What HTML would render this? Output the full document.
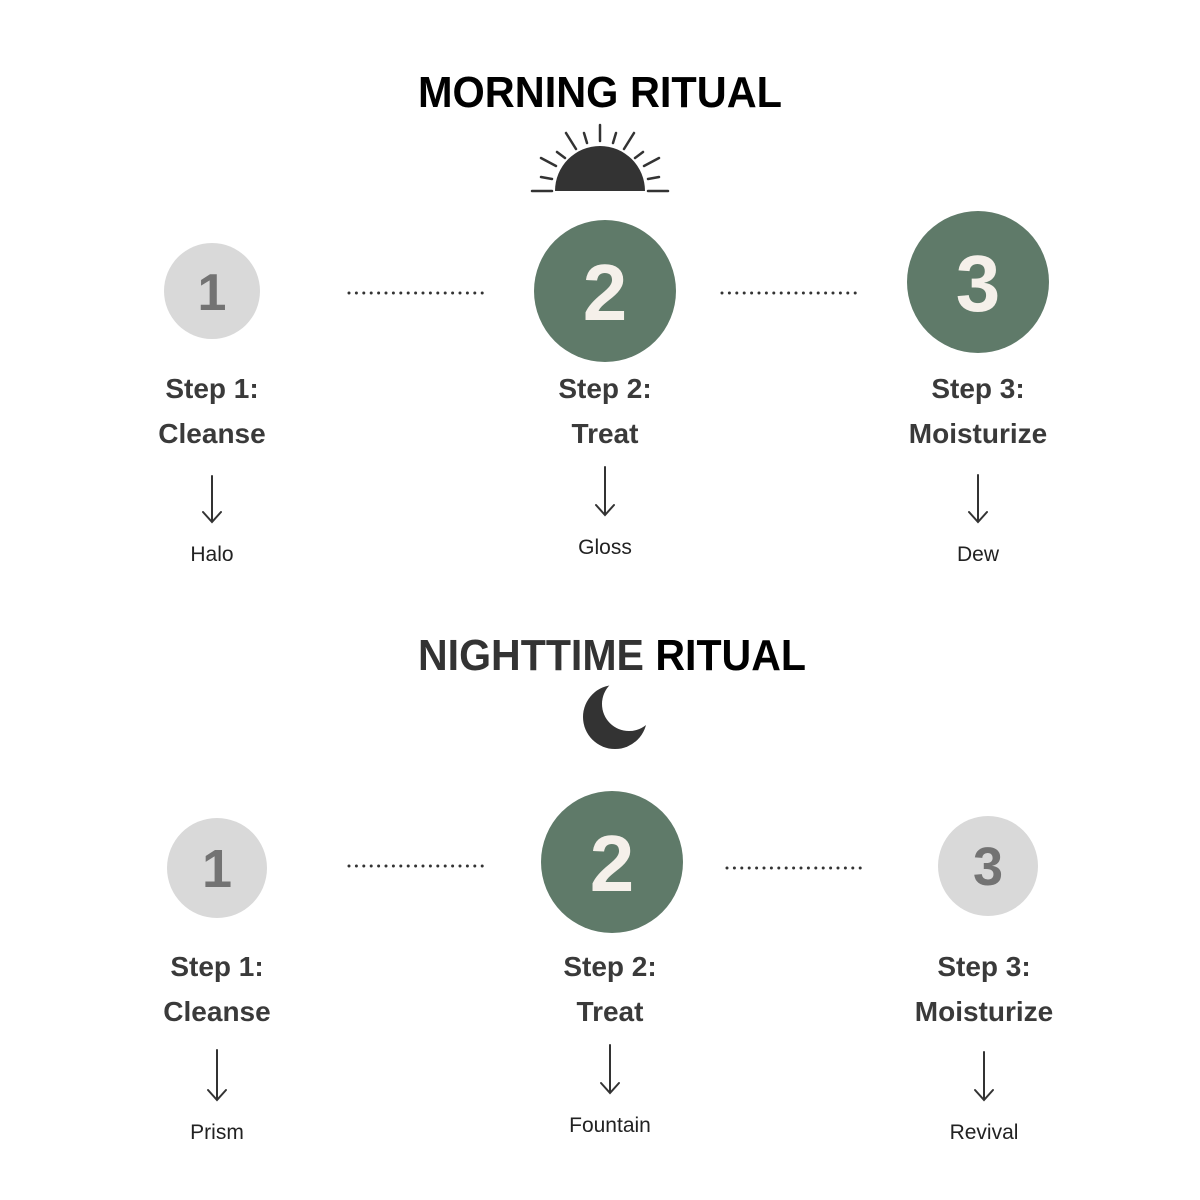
<!DOCTYPE html>
<html><head><meta charset="utf-8"><style>
html,body{margin:0;padding:0;background:#fff}
svg{display:block}
.h{font-family:"Liberation Sans",sans-serif;font-weight:bold;font-size:44px;text-anchor:middle}
.s{font-family:"Liberation Sans",sans-serif;font-weight:bold;font-size:28px;fill:#3a3a3a;text-anchor:middle}
.p{font-family:"Liberation Sans",sans-serif;font-size:21px;fill:#222;text-anchor:middle}
.n{font-family:"Liberation Sans",sans-serif;font-weight:bold;text-anchor:middle}
.d{stroke:#333;stroke-width:3;stroke-linecap:round;stroke-dasharray:0 7.4}
.a{stroke:#333;stroke-width:2;fill:none;stroke-linecap:round}
</style></head><body>
<svg width="1200" height="1200" viewBox="0 0 1200 1200">
<defs><mask id="m"><rect width="1200" height="1200" fill="#fff"/><circle cx="629" cy="704" r="27" fill="#000"/></mask></defs>
<text x="600" y="107" class="h" fill="#000" textLength="364" lengthAdjust="spacingAndGlyphs">MORNING RITUAL</text>
<path d="M555 191 A45 45 0 0 1 645 191 Z" fill="#333"/>
<g stroke="#333" stroke-width="2.5" stroke-linecap="round">
<line x1="532" y1="191" x2="552" y2="191"/><line x1="648" y1="191" x2="668" y2="191"/>
<line x1="600" y1="125" x2="600" y2="141"/>
<line x1="541" y1="177" x2="552" y2="179"/><line x1="659" y1="177" x2="648" y2="179"/>
<line x1="541" y1="158" x2="556" y2="166"/><line x1="659" y1="158" x2="644" y2="166"/>
<line x1="557" y1="152" x2="565" y2="158"/><line x1="643" y1="152" x2="635" y2="158"/>
<line x1="566" y1="133" x2="576" y2="149"/><line x1="634" y1="133" x2="624" y2="149"/>
<line x1="584" y1="133" x2="587" y2="143"/><line x1="616" y1="133" x2="613" y2="143"/>
</g>
<circle cx="212" cy="291" r="48" fill="#d9d9d9"/>
<text x="212" y="310" class="n" font-size="52" fill="#737373">1</text>
<circle cx="605" cy="291" r="71" fill="#5f7a69"/>
<text x="605" y="320" class="n" font-size="80" fill="#f5f0ea">2</text>
<circle cx="978" cy="282" r="71" fill="#5f7a69"/>
<text x="978" y="311" class="n" font-size="80" fill="#f5f0ea">3</text>
<line x1="349" y1="293" x2="489" y2="293" class="d"/>
<line x1="722" y1="293" x2="862" y2="293" class="d"/>
<text x="212" y="398" class="s">Step 1:</text><text x="212" y="443" class="s">Cleanse</text>
<text x="605" y="398" class="s">Step 2:</text><text x="605" y="443" class="s">Treat</text>
<text x="978" y="398" class="s">Step 3:</text><text x="978" y="443" class="s">Moisturize</text>
<path class="a" d="M212 476V522M203 512L212 522L221 512"/>
<path class="a" d="M605 467V515M596 505L605 515L614 505"/>
<path class="a" d="M978 475V522M969 512L978 522L987 512"/>
<text x="212" y="561" class="p">Halo</text>
<text x="605" y="554" class="p">Gloss</text>
<text x="978" y="561" class="p">Dew</text>
<text x="612" y="670" class="h" textLength="388" lengthAdjust="spacingAndGlyphs"><tspan fill="#333">NIGHTTIME </tspan><tspan fill="#000">RITUAL</tspan></text>
<circle cx="615" cy="717" r="32" fill="#333" mask="url(#m)"/>
<circle cx="217" cy="868" r="50" fill="#d9d9d9"/>
<text x="217" y="887" class="n" font-size="54" fill="#737373">1</text>
<circle cx="612" cy="862" r="71" fill="#5f7a69"/>
<text x="612" y="891" class="n" font-size="80" fill="#f5f0ea">2</text>
<circle cx="988" cy="866" r="50" fill="#d9d9d9"/>
<text x="988" y="885" class="n" font-size="54" fill="#737373">3</text>
<line x1="349" y1="866" x2="489" y2="866" class="d"/>
<line x1="727" y1="868" x2="867" y2="868" class="d"/>
<text x="217" y="976" class="s">Step 1:</text><text x="217" y="1021" class="s">Cleanse</text>
<text x="610" y="976" class="s">Step 2:</text><text x="610" y="1021" class="s">Treat</text>
<text x="984" y="976" class="s">Step 3:</text><text x="984" y="1021" class="s">Moisturize</text>
<path class="a" d="M217 1050V1100M208 1090L217 1100L226 1090"/>
<path class="a" d="M610 1045V1093M601 1083L610 1093L619 1083"/>
<path class="a" d="M984 1052V1100M975 1090L984 1100L993 1090"/>
<text x="217" y="1139" class="p">Prism</text>
<text x="610" y="1132" class="p">Fountain</text>
<text x="984" y="1139" class="p">Revival</text>
</svg>
</body></html>
